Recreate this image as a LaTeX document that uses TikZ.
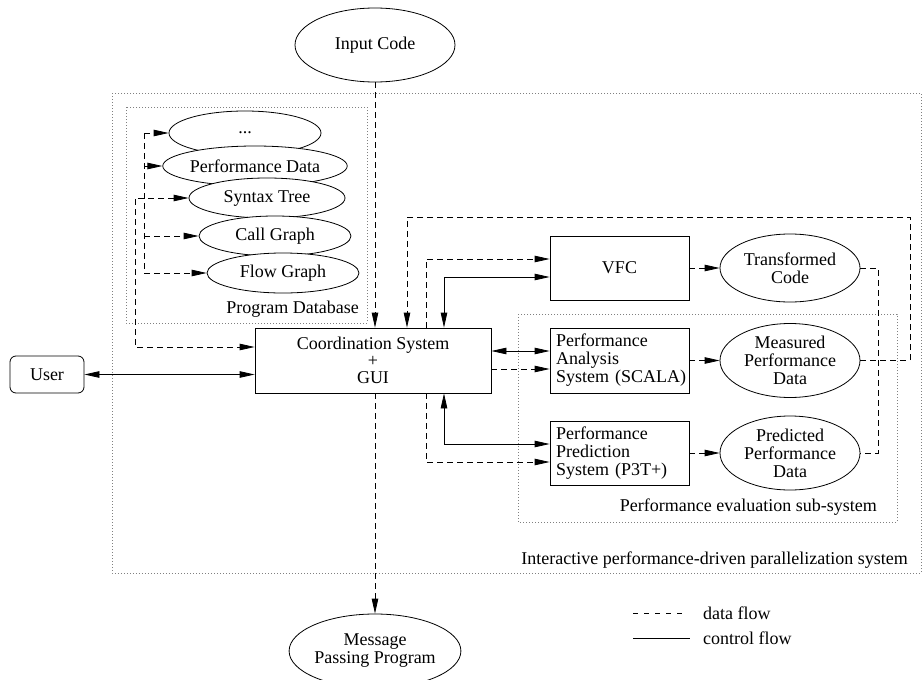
\documentclass[tikz,border=0pt]{standalone}
\usepackage{fontspec}
\setmainfont{Liberation Serif}
\usetikzlibrary{arrows.meta,shapes.geometric,calc}
\begin{document}
\begin{tikzpicture}[x=1pt,y=-1pt,
  font=\fontsize{18}{18}\selectfont,
  every node/.style={inner sep=0pt},
  ell/.style={draw,ellipse,fill=white,line width=0.8pt,align=center},
  dbell/.style={ell,minimum width=152pt,minimum height=40pt},
  resell/.style={ell,minimum width=140pt,minimum height=74pt},
  box/.style={draw,rectangle,line width=0.8pt,fill=white},
  lbox/.style={box,minimum width=139pt,minimum height=64pt,text width=135pt,inner xsep=2pt,align=left},
  data/.style={line width=0.8pt,dash pattern=on 6pt off 4pt},
  ctrl/.style={line width=0.8pt},
  tip/.style={-{Triangle[length=15pt,width=6.5pt]}},
  tips/.style={{Triangle[length=15pt,width=6.5pt]}-{Triangle[length=15pt,width=6.5pt]}},
  region/.style={draw=gray,line width=0.8pt,dash pattern=on 0.9pt off 2.1pt},
  lbl/.style={anchor=east}
]
\path[use as bounding box,fill=white] (0,0) rectangle (924,680);

% regions
\draw[region] (112,93) rectangle (921,573);
\draw[region] (126,107) rectangle (367,323);
\draw[region] (518,314) rectangle (897,522);
\node[lbl] (lblDB) at (359,309) {Program Database};
\node[lbl] (lblPE) at (877,507) {Performance evaluation sub-system};
\node[lbl] (lblIS) at (908,560) {Interactive performance-driven parallelization system};

% nodes
\node[ell,minimum width=160pt,minimum height=74pt] (input) at (375,45) {Input Code};
\node[ell,minimum width=160pt,minimum height=74pt] (msg) at (375,651) {Message\\Passing Program};

\node[dbell,minimum height=44pt] (dots) at (245,133) {...};
\node[dbell] (perf) at (255,166) {Performance Data};
\node[dbell,minimum width=156pt] (syntax) at (267,198) {Syntax Tree};
\node[dbell] (call) at (275,236) {Call Graph};
\node[dbell] (flow) at (283,273) {Flow Graph};

\node[box,minimum width=236pt,minimum height=65pt,align=center,font=\fontsize{18}{17}\selectfont] (coord) at (373,360.5) {Coordination System\\+\\GUI};
\node[box,draw,rounded corners=6pt,minimum width=74pt,minimum height=37pt] (user) at (47,374.5) {User};

\node[box,minimum width=139pt,minimum height=64pt] (vfc) at (619.5,268) {VFC};
\node[lbox,minimum height=65pt] (scala) at (619.5,360.5) {\hspace*{4pt}Performance\\\hspace*{4pt}Analysis\\\hspace*{4pt}System (SCALA)};
\node[lbox] (p3t) at (619.5,453) {\hspace*{4pt}Performance\\\hspace*{4pt}Prediction\\\hspace*{4pt}System (P3T+)};

\node[resell,minimum height=68pt] (trans) at (790,268) {Transformed\\Code};
\node[resell] (meas) at (790,360.5) {Measured\\Performance\\Data};
\node[resell] (pred) at (790,453) {Predicted\\Performance\\Data};

% helper coordinates
\coordinate (xA) at (144,0);
\coordinate (xB) at (135,0);
\coordinate (x407) at (407,0);
\coordinate (x426) at (426,0);
\coordinate (x444) at (444,0);
\coordinate (x878) at (878,0);
\coordinate (loopTR) at (910,217);
\coordinate (y347) at (0,347);
\coordinate (y259) at (0,259);
\coordinate (y277) at (0,277);
\coordinate (y351) at (0,351);
\coordinate (y369) at (0,369);
\coordinate (y444) at (0,444);
\coordinate (y462) at (0,462);

% input -> coord
\draw[data,tip] (input.south) -- (coord.north -| input.south);
% coord -> message
\draw[data,tip] (coord.south -| msg.north) -- (msg.north);

% program database connections
\draw[data] (xA |- dots.west) -- (xA |- flow.west);
\draw[data,tip] (xA |- dots.west) -- (dots.west);
\draw[data,tip] (xA |- perf.west) -- (perf.west);
\draw[data,tip] (xA |- call.west) -- (call.west);
\draw[data,tip] (xA |- flow.west) -- (flow.west);
\draw[data,tips] (syntax.west) -| (xB |- y347) -- (coord.west |- y347);

% user
\draw[ctrl,tips] (user.east) -- (user.east -| coord.west);

% feedback loop from measured data
\draw[data,tip] (meas.east) -| (loopTR) -| (coord.north -| x407);

% coord <-> VFC
\draw[data,tip] (coord.north -| x426) |- (vfc.west |- y259);
\draw[ctrl,tips] (coord.north -| x444) |- (vfc.west |- y277);
% coord <-> SCALA
\draw[ctrl,tips] (coord.east |- y351) -- (scala.west |- y351);
\draw[data,tip] (coord.east |- y369) -- (scala.west |- y369);
% coord <-> P3T
\draw[ctrl,tips] (coord.south -| x444) |- (p3t.west |- y444);
\draw[data,tip] (coord.south -| x426) |- (p3t.west |- y462);

% tools -> results
\draw[data,tip] (vfc.east |- trans.west) -- (trans.west);
\draw[data,tip] (scala.east |- meas.west) -- (meas.west);
\draw[data,tip] (p3t.east |- pred.west) -- (pred.west);
\draw[data] (trans.east) -- (x878 |- trans.east) -- (x878 |- pred.east) -- (pred.east);

% legend
\coordinate (lgA) at (633,613);
\coordinate (lgB) at (633,638);
\node[anchor=west] (lgdata) at (703,613) {data flow};
\node[anchor=west] (lgctrl) at (703,638) {control flow};
\draw[ctrl,dash pattern=on 5pt off 6pt] (lgA) -- ++(52,0);
\draw[ctrl] (lgB) -- ++(57,0);
\end{tikzpicture}
\end{document}
